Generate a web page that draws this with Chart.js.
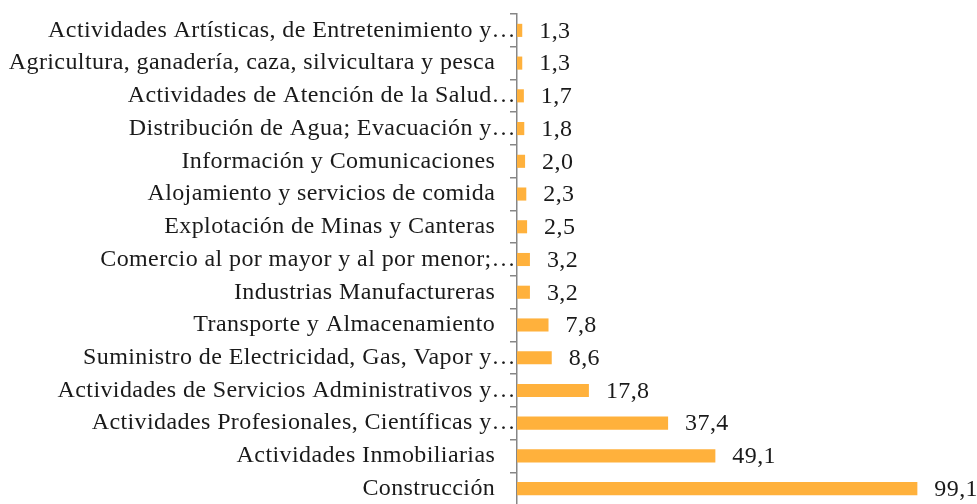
<!DOCTYPE html>
<html>
<head>
<meta charset="utf-8">
<script src="https://cdn.jsdelivr.net/npm/chart.js@4"></script>
<style>
html,body{margin:0;padding:0;background:#fff;overflow:hidden;}
#wrap{position:relative;width:977px;height:510px;}
</style>
</head>
<body>
<div id="wrap"><canvas id="c"></canvas></div>
<script>
const categories = [
  "Actividades Artísticas, de Entretenimiento y…",
  "Agricultura, ganadería, caza, silvicultara y pesca",
  "Actividades de Atención de la Salud…",
  "Distribución de Agua; Evacuación y…",
  "Información y Comunicaciones",
  "Alojamiento y servicios de comida",
  "Explotación de Minas y Canteras",
  "Comercio al por mayor y al por menor;…",
  "Industrias Manufactureras",
  "Transporte y Almacenamiento",
  "Suministro de Electricidad, Gas, Vapor y…",
  "Actividades de Servicios Administrativos y…",
  "Actividades Profesionales, Científicas y…",
  "Actividades Inmobiliarias",
  "Construcción"
];
const values = [1.3, 1.3, 1.7, 1.8, 2.0, 2.3, 2.5, 3.2, 3.2, 7.8, 8.6, 17.8, 37.4, 49.1, 99.1];

const FONT = "'Liberation Serif', 'Times New Roman', serif";
const FSIZE = 24;
const SPACING = '0.4px';

const spacingPlugin = {
  id: 'spacing',
  beforeDraw(chart) { chart.ctx.letterSpacing = SPACING; },
  beforeLayout(chart) { chart.ctx.letterSpacing = SPACING; }
};

const valueLabels = {
  id: 'valueLabels',
  afterDatasetsDraw(chart) {
    const ctx = chart.ctx;
    const meta = chart.getDatasetMeta(0);
    ctx.save();
    ctx.letterSpacing = SPACING;
    ctx.font = FSIZE + "px " + FONT;
    ctx.fillStyle = "#1a1a1a";
    ctx.textAlign = "left";
    ctx.textBaseline = "middle";
    meta.data.forEach((bar, i) => {
      const txt = values[i].toFixed(1).replace('.', ',');
      ctx.fillText(txt, bar.x + 17, bar.y + 1);
    });
    ctx.restore();
  }
};

new Chart(document.getElementById('c'), {
  type: 'bar',
  data: {
    labels: categories,
    datasets: [{
      data: values,
      backgroundColor: '#FFB13C',
      borderWidth: 0,
      barPercentage: 0.4,
      categoryPercentage: 1.0
    }]
  },
  options: {
    indexAxis: 'y',
    responsive: true,
    maintainAspectRatio: false,
    animation: false,
    layout: { padding: { top: 14, bottom: 5, left: 0, right: 56 } },
    plugins: { legend: { display: false }, tooltip: { enabled: false } },
    scales: {
      x: { display: false, min: 0, max: 100 },
      y: {
        afterFit(scale) { scale.width = 517; scale.paddingTop = 0; scale.paddingBottom = 0; },
        grid: {
          offset: true,
          drawOnChartArea: false,
          drawTicks: true,
          tickLength: 7,
          color: '#868686',
          lineWidth: 1.5
        },
        border: { display: true, color: '#868686', width: 1.5 },
        ticks: {
          color: '#1a1a1a',
          padding: -6,
          autoSkip: false,
          font: { family: FONT, size: FSIZE },
          callback(v, i) {
            const s = categories[i];
            return s.endsWith('…') ? s : s + '\u2002\u2004';
          }
        }
      }
    }
  },
  plugins: [spacingPlugin, valueLabels]
});
</script>
</body>
</html>
